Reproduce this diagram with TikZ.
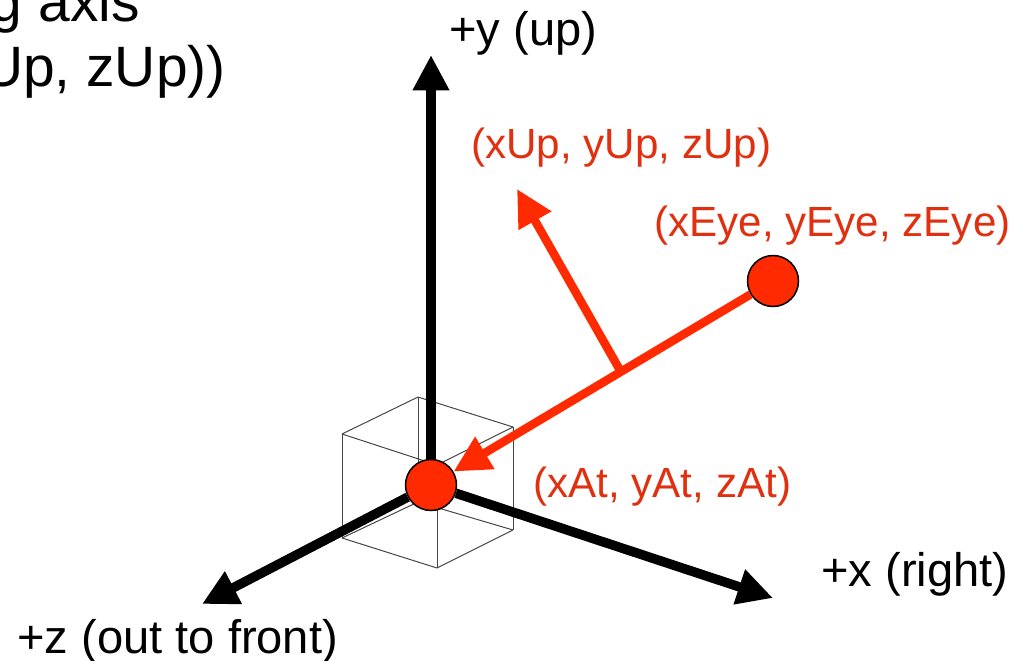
\documentclass[tikz,border=0pt]{standalone}
\usepackage{fontspec}
\usetikzlibrary{arrows.meta}
\setmainfont{Liberation Sans}
\definecolor{lookred}{RGB}{255, 42, 0}
\definecolor{labelred}{RGB}{224, 48, 16}
\definecolor{cubegray}{RGB}{70, 70, 70}
\tikzset{
  axisline/.style={line width=0.19cm, -{Triangle[length=0.71cm,width=0.69cm]}},
  lookline/.style={lookred, line width=0.17cm},
  lookarrow/.style={lookline, -{Triangle[length=0.73cm,width=0.71cm]}},
  pointdot/.style={circle, draw=black, line width=0.03cm, fill=lookred, minimum size=1.02cm, inner sep=0},
  cubeedge/.style={draw=cubegray, line width=0.02cm},
  axislabel/.style={anchor=base west, inner sep=0, font=\fontsize{26.8}{30}\selectfont},
  pointlabel/.style={anchor=base west, inner sep=0, labelred, font=\fontsize{24}{28}\selectfont},
  caplabel/.style={anchor=base east, inner sep=0, font=\fontsize{32.4}{36}\selectfont}
}
\begin{document}
\begin{tikzpicture}[x=0.02cm, y=-0.02cm]
      \useasboundingbox (0, 0) rectangle (1025, 660);

      % wire cube round the look-at point
      \coordinate (backtop) at (418, 397);
      \coordinate (lefttop) at (342, 434);
      \coordinate (righttop) at (513, 427);
      \coordinate (fronttop) at (437, 465);
      \coordinate (backbot) at (418, 502);
      \coordinate (leftbot) at (342, 538);
      \coordinate (rightbot) at (513, 530);
      \coordinate (frontbot) at (437, 568);
      \foreach \a/\b in {backtop/lefttop, backtop/righttop, lefttop/fronttop, righttop/fronttop,
                         backbot/leftbot, backbot/rightbot, leftbot/frontbot, rightbot/frontbot,
                         backtop/backbot, lefttop/leftbot, righttop/rightbot, fronttop/frontbot} {
        \draw[cubeedge] (\a) -- (\b);
      }

      % points
      \node[pointdot] (at) at (431, 485) {};
      \node[pointdot] (eye) at (773, 281) {};

      % axes
      \coordinate (ytip) at (431, 55);
      \coordinate (xtip) at (773, 598);
      \coordinate (ztip) at (202, 604);
      \foreach \t in {ytip, xtip, ztip} {
        \draw[axisline] (at) -- (\t);
      }

      % view direction and up vector
      \coordinate (upbase) at (621, 372);
      \coordinate (uptip) at (517, 189);
      \draw[lookarrow] (eye) -- (at);
      \draw[lookarrow] (upbase) -- (uptip);

      % labels
      \node[axislabel] (ylabel) at (449, 45) {+y (up)};
      \node[axislabel] (xlabel) at (821, 586) {+x (right)};
      \node[axislabel] (zlabel) at (17, 653) {+z (out to front)};
      \node[pointlabel] (uplabel) at (471, 158) {(xUp, yUp, zUp)};
      \node[pointlabel] (eyelabel) at (654, 236) {(xEye, yEye, zEye)};
      \node[pointlabel] (atlabel) at (533, 497) {(xAt, yAt, zAt)};

      % text cut off by the left edge
      \node[caplabel] (capone) at (140, 21) {g axis};
      \node[caplabel] (captwo) at (226, 86) {Up, zUp))};
    \end{tikzpicture}
\end{document}
